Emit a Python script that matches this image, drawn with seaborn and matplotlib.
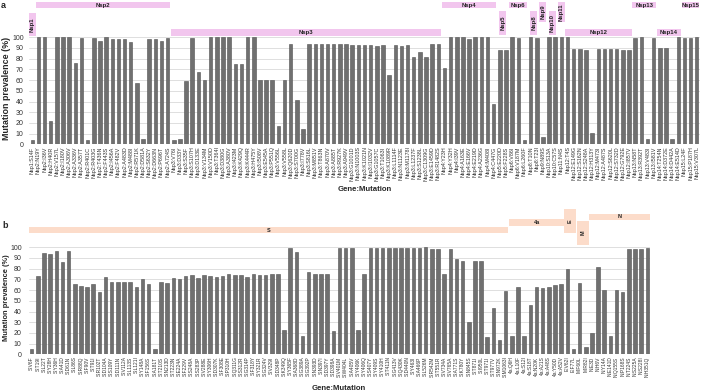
import numpy as np
import pandas as pd
import matplotlib
matplotlib.use("Agg")
import matplotlib.pyplot as plt
import matplotlib.transforms as mtransforms
from matplotlib.patches import Rectangle
import seaborn as sns

# panel a: ORF1ab (Nsp) mutations
nsp_labels = [
    "Nsp1:S14F",
    "Nsp2:N19Y", "Nsp2:I36V", "Nsp2:H40R", "Nsp2:V157L", "Nsp2:I180V", "Nsp2:A306V",
    "Nsp2:A336V", "Nsp2:A357T", "Nsp2:R401C", "Nsp2:R403G", "Nsp2:T436N", "Nsp2:F443S",
    "Nsp2:I456A", "Nsp2:F482V", "Nsp2:A483D", "Nsp2:M488I", "Nsp2:R571K", "Nsp2:D581A",
    "Nsp2:S632Y", "Nsp2:D663N", "Nsp2:P696T", "Nsp2:A724S",
    "Nsp3:V76I", "Nsp3:D33Y", "Nsp3:S35F", "Nsp3:S107H", "Nsp3:D133E", "Nsp3:V134M",
    "Nsp3:V150D", "Nsp3:T364I", "Nsp3:D380G", "Nsp3:A380V", "Nsp3:I423M", "Nsp3:K429Q",
    "Nsp3:K444R", "Nsp3:H475Y", "Nsp3:I508V", "Nsp3:E545A", "Nsp3:P551Q", "Nsp3:V556L",
    "Nsp3:V558L", "Nsp3:Q620D", "Nsp3:S700G", "Nsp3:I778V", "Nsp3:S816L", "Nsp3:M851V",
    "Nsp3:T863N", "Nsp3:A870V", "Nsp3:A885T", "Nsp3:R927K", "Nsp3:A949V", "Nsp3:G1001D",
    "Nsp3:N1003S", "Nsp3:K1021N", "Nsp3:I1032V", "Nsp3:G1057C", "Nsp3:T1063I",
    "Nsp3:K1089R", "Nsp3:L1114F", "Nsp3:N1123E", "Nsp3:M1178I", "Nsp3:L1237F",
    "Nsp3:S1238L", "Nsp3:C1309G", "Nsp3:E1459D", "Nsp3:R1482S",
    "Nsp4:Y23H", "Nsp4:Y32H", "Nsp4:I39V", "Nsp4:A163E", "Nsp4:E166V", "Nsp4:E219D",
    "Nsp4:A236G", "Nsp4:M408I", "Nsp4:C447G",
    "Nsp5:E220D", "Nsp5:F228S",
    "Nsp6:V86I", "Nsp6:V187M", "Nsp6:L260F",
    "Nsp8:T10N", "Nsp8:T23I",
    "Nsp9:N89S",
    "Nsp10:S13A", "Nsp10:C57S",
    "Nsp11:N4S",
    "Nsp12:T4S", "Nsp12:E149G", "Nsp12:S162N", "Nsp12:S248A", "Nsp12:H313Y",
    "Nsp12:M473I", "Nsp12:A487S", "Nsp12:S620L", "Nsp12:S732D", "Nsp12:G792E",
    "Nsp12:I857V",
    "Nsp13:N58T", "Nsp13:R392T", "Nsp13:V483I", "Nsp13:I581V",
    "Nsp14:T254N", "Nsp14:D372E", "Nsp14:D442A", "Nsp14:E514D",
    "Nsp15:L24F", "Nsp15:P187H", "Nsp15:V307L",
]
nsp_prevalence = [
    4,
    100, 100, 22, 100, 100, 100, 76, 99, 4, 99, 97, 100, 98, 98, 98, 96, 57, 5, 98, 98, 97, 99,
    4, 5, 59, 99, 68, 60, 100, 100, 100, 100, 75, 75, 100, 100, 60, 60, 60, 17, 60, 94, 41, 14,
    94, 94, 94, 94, 94, 94, 94, 93, 93, 93, 93, 92, 93, 65, 93, 92, 93, 82, 86, 82, 94, 94,
    71, 100, 100, 100, 98, 100, 100, 100, 38,
    88, 88,
    100, 99, 4,
    100, 99,
    7,
    100, 100,
    100,
    100, 89, 89, 88, 11, 89, 89, 89, 89, 88, 88,
    99, 100, 5, 99,
    90, 90, 5, 100,
    99, 99, 100,
]

# panel b: structural / accessory protein mutations
sp_labels = [
    "S:V6F", "S:T19I", "S:L22T", "S:Y28H", "S:Y36H", "S:A41D", "S:D61N", "S:L86S",
    "S:R88Q", "S:F90V", "S:T91I", "S:R102T", "S:D104A", "S:S109Y", "S:D111N", "S:V112A",
    "S:L113S", "S:L121I", "S:Y148A", "S:F156S", "S:A181T", "S:T210S", "S:N213D",
    "S:T223N", "S:E224A",
    "S:F229V", "S:S248A", "S:S283P", "S:V288E", "S:Y306H", "S:D307K", "S:F308E",
    "S:P310H", "S:Q311G", "S:S312R", "S:G314P", "S:F318Y", "S:Y321R", "S:G324V",
    "S:V329I", "S:D348P", "S:K349Q", "S:Y365F", "S:A368D", "S:G389A", "S:G392P",
    "S:N393D", "S:N397I", "S:D397Y", "S:D398A", "S:V401M", "S:W404L",
    "S:A405V", "S:Y406K", "S:Y406Q", "S:S407Y", "S:Y409S", "S:Y410H", "S:T411N",
    "S:G413V", "S:Q430K", "S:D440N", "S:Y463I", "S:A466P", "S:L526M", "S:R542M",
    "S:T551R", "S:V734A", "S:V765A", "S:A771S", "S:K780Y", "S:N845S", "S:T871I",
    "S:I950L", "S:T971I", "S:T977V", "S:N972K", "S:M1063I",
    "4a:Q6H", "4a:L10F", "4a:S12I", "4a:S18T", "4a:N20K", "4a:A21S", "4a:A48S",
    "4a:Y50D", "4a:A52V",
    "E:V62I", "E:F77L",
    "M:F60L", "M:R82I",
    "N:E3D", "N:H6V", "N:Y14A", "N:E141D", "N:Q155S", "N:P168S", "N:T224S",
    "N:S225A", "N:S228I", "N:H351Q",
]
sp_prevalence = [
    5, 73, 95, 94, 97, 86, 97, 66, 64, 63, 66, 58, 72, 68, 68, 68, 68, 63, 70, 66, 5, 68, 67,
    71, 70,
    73, 74, 71, 74, 73, 72, 73, 75, 74, 74, 72, 75, 74, 74, 75, 75, 23, 99, 96, 17, 77, 75,
    75, 75, 22, 99, 99,
    99, 23, 75, 99, 99, 99, 99, 99, 99, 99, 99, 99, 100, 98, 98, 75, 98, 89, 87, 30, 87, 87,
    16, 43, 13, 59,
    17, 63, 17, 46, 63, 62, 63, 65, 66,
    80, 5,
    67, 7,
    20, 82, 60, 17, 60, 58, 98, 98, 98, 99,
]

# box style per gene: (kind, top px, bottom px, width px for vertical boxes)
nsp_box_style = {
    "Nsp1": ("v", 13, 36, 7), "Nsp2": ("h", 2, 8, 0), "Nsp3": ("h", 29, 36, 0),
    "Nsp4": ("h", 2, 8, 0), "Nsp5": ("v", 11, 35, 7), "Nsp6": ("h", 2, 8, 0),
    "Nsp8": ("v", 11, 35, 7), "Nsp9": ("v", 2, 22, 7), "Nsp10": ("v", 11, 35, 7),
    "Nsp11": ("v", 2, 22, 7), "Nsp12": ("h", 29, 36, 0), "Nsp13": ("h", 2, 8, 0),
    "Nsp14": ("h", 29, 36, 0), "Nsp15": ("h", 2, 8, 0),
}
sp_box_style = {
    "S": ("h", 227, 233, 0), "4a": ("h", 219, 226, 0), "E": ("v", 209, 233, 12),
    "M": ("v", 221, 245, 12), "N": ("h", 214, 220, 0),
}

W, H = 702, 392
BAR_COLOR = "#707070"
GRID = "#d9d9d9"


def draw_gene_boxes(fig, ax, labels, style, color, fs):
    genes = [l.split(":")[0] for l in labels]
    trans = mtransforms.blended_transform_factory(ax.transData, fig.transFigure)
    step_px = ax.get_position().width * W / len(labels)
    i = 0
    while i < len(genes):
        j = i
        while j + 1 < len(genes) and genes[j + 1] == genes[i]:
            j += 1
        g = genes[i]
        kind, top, bot, wpx = style[g]
        y0 = 1 - bot / H
        hgt = (bot - top) / H
        if kind == "h":
            x0, x1 = i - 0.45, j + 0.45
            rot = 0
        else:
            c = (i + j) / 2
            half = wpx / step_px / 2
            x0, x1 = c - half, c + half
            rot = 90
        ax.add_patch(Rectangle((x0, y0), x1 - x0, hgt, transform=trans,
                               facecolor=color, edgecolor="none", clip_on=False))
        ax.text((x0 + x1) / 2, y0 + hgt / 2, g, transform=trans, rotation=rot,
                ha="center", va="center", fontsize=fs, fontweight="bold",
                color="#222222")
        i = j + 1


def panel(fig, rect, labels, values, xfs, ypad):
    ax = fig.add_axes(rect)
    df = pd.DataFrame({"mutation": labels, "prevalence": values})
    sns.barplot(data=df, x="mutation", y="prevalence", order=labels,
                color=BAR_COLOR, saturation=1, width=0.57,
                edgecolor="#505050", linewidth=0.4, ax=ax)
    ax.set_xlim(-0.5, len(labels) - 0.5)
    ax.set_ylim(0, 100)
    ax.set_yticks(np.arange(0, 101, 10))
    ax.yaxis.grid(True, color=GRID, linewidth=0.6)
    ax.set_axisbelow(True)
    for s in ax.spines.values():
        s.set_visible(False)
    ax.tick_params(axis="x", labelsize=xfs, rotation=90, length=0, pad=1.5,
                   labelcolor="#333333")
    ax.tick_params(axis="y", labelsize=5, length=0, pad=ypad, labelcolor="#333333")
    ax.set_xlabel("")
    ax.set_ylabel("")
    return ax


sns.set_style("white")
plt.rcParams["font.family"] = ["Liberation Sans", "DejaVu Sans"]

fig = plt.figure(figsize=(W / 100, H / 100), dpi=100)

# top panel: x 29.2-699.8 px, y 37.3-144.3 px
ax_a = panel(fig, [29.2 / W, 1 - 144.3 / H, 670.6 / W, 107 / H],
             nsp_labels, nsp_prevalence, 3.9, 4.0)
draw_gene_boxes(fig, ax_a, nsp_labels, nsp_box_style, "#f2c6ee", 4.3)

# bottom panel: x 28.6-650.4 px, y 247.3-354.3 px
ax_b = panel(fig, [28.6 / W, 1 - 354.3 / H, 621.8 / W, 107 / H],
             sp_labels, sp_prevalence, 3.5, 5.0)
draw_gene_boxes(fig, ax_b, sp_labels, sp_box_style, "#fcdcca", 4.0)

fig.text(6.5 / W, 1 - 88 / H, "Mutation prevalence (%)", rotation=90,
         ha="center", va="center", fontsize=6.4, fontweight="bold")
fig.text(7 / W, 1 - 298 / H, "Mutation prevalence (%)", rotation=90,
         ha="center", va="center", fontsize=5.4, fontweight="bold")
fig.text(365 / W, 1 - 189 / H, "Gene:Mutation", ha="center", va="center",
         fontsize=5.6, fontweight="bold")
fig.text(339 / W, 1 - 388 / H, "Gene:Mutation", ha="center", va="center",
         fontsize=5.6, fontweight="bold")
fig.text(0.5 / W, 1 - 1 / H, "a", ha="left", va="top", fontsize=6.5,
         fontweight="bold")
fig.text(2.5 / W, 1 - 226 / H, "b", ha="left", va="center", fontsize=6.5,
         fontweight="bold")

fig.savefig("out.png", dpi=100)
